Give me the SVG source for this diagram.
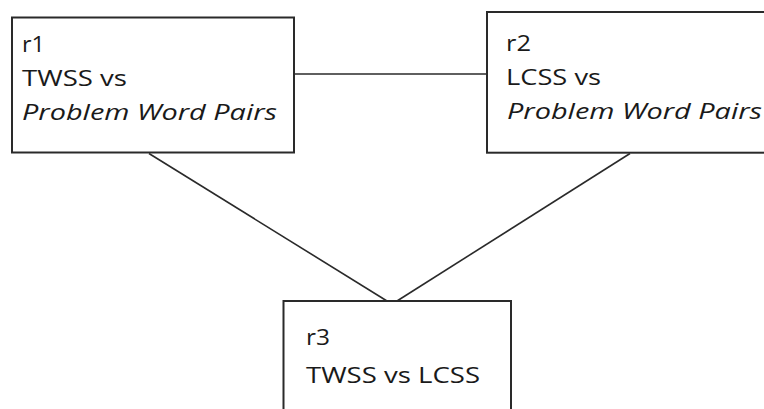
<svg xmlns="http://www.w3.org/2000/svg" width="764" height="409" viewBox="0 0 764 409">
<style>
.box{fill:#fff;stroke:#2a2a2a;stroke-width:2}
.edge{stroke:#2a2a2a;stroke-width:1.6;fill:none}
text{font-family:"Open Sans","Liberation Sans",sans-serif;font-size:21.5px;fill:#1a1a1a}
.it{font-style:italic}
</style>
<rect width="764" height="409" fill="#fff"/>
<g id="connectors">
<line class="edge" x1="294" y1="74" x2="487" y2="74"/>
<line class="edge" x1="149" y1="153.5" x2="387" y2="301"/>
<line class="edge" x1="630" y1="153.5" x2="397" y2="301"/>
</g>
<g id="r1">
<rect class="box" x="12" y="17.5" width="282" height="135"/>
<text x="22" y="52.3" textLength="23" lengthAdjust="spacingAndGlyphs">r1</text>
<text x="22" y="86" textLength="105" lengthAdjust="spacingAndGlyphs">TWSS vs</text>
<text class="it" x="22" y="120" textLength="255" lengthAdjust="spacingAndGlyphs">Problem Word Pairs</text>
</g>
<g id="r2">
<rect class="box" x="487" y="12" width="300" height="140.7"/>
<text x="506" y="50.7" textLength="25" lengthAdjust="spacingAndGlyphs">r2</text>
<text x="506" y="85" textLength="95" lengthAdjust="spacingAndGlyphs">LCSS vs</text>
<text class="it" x="507" y="118.5" textLength="255" lengthAdjust="spacingAndGlyphs">Problem Word Pairs</text>
</g>
<g id="r3">
<rect class="box" x="283.5" y="301" width="227.5" height="130"/>
<text x="306" y="345" textLength="24" lengthAdjust="spacingAndGlyphs">r3</text>
<text x="306" y="382.7" textLength="174" lengthAdjust="spacingAndGlyphs">TWSS vs LCSS</text>
</g>
</svg>
